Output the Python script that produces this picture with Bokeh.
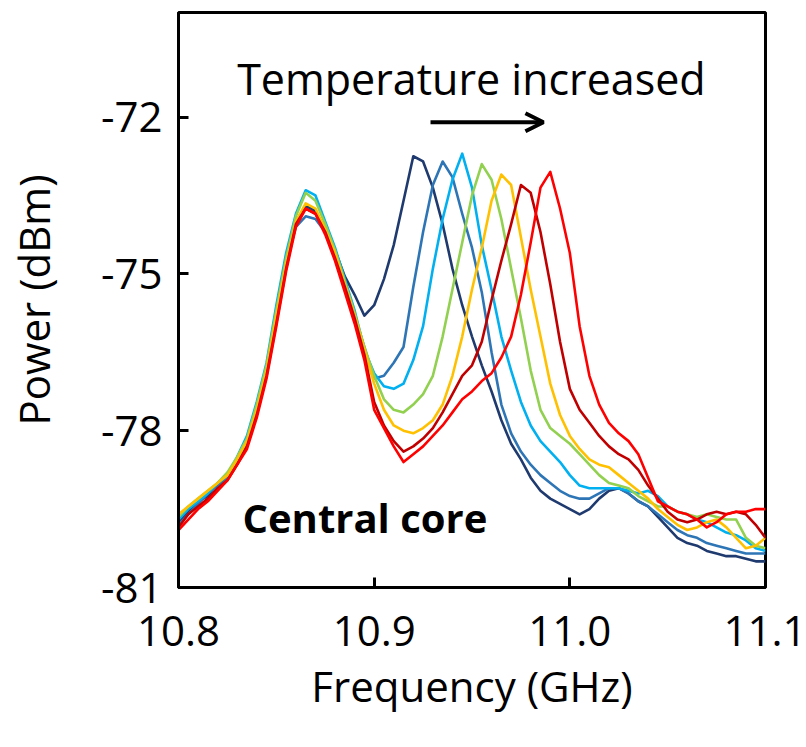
from bokeh.plotting import figure
from bokeh.models import Range1d, FixedTicker, Label, Arrow, OpenHead, PrintfTickFormatter, ColumnDataSource
from bokeh.embed import file_html
from bokeh.resources import INLINE

# ---------------- data ----------------
freq_ghz = [round(10.800 + 0.005 * i, 3) for i in range(61)]

navy = [-79.75, -79.55, -79.35, -79.25, -79.0, -78.9, -78.6, -78.2, -77.6, -76.9,
        -75.9, -74.85, -74.0, -73.7, -73.8, -74.15, -74.55, -75.05, -75.4, -75.8,
        -75.6, -75.1, -74.45, -73.6, -72.75, -72.85, -73.35, -74.05, -74.9, -75.6,
        -76.2, -76.75, -77.25, -77.8, -78.25, -78.55, -78.9, -79.15, -79.3, -79.4,
        -79.5, -79.6, -79.5, -79.3, -79.15, -79.1, -79.2, -79.35, -79.45, -79.65,
        -79.85, -80.05, -80.15, -80.2, -80.3, -80.35, -80.4, -80.4, -80.45, -80.5,
        -80.5]
mid_blue = [-79.8, -79.6, -79.4, -79.2, -79.05, -78.9, -78.55, -78.2, -77.6, -76.85,
            -75.8, -74.8, -74.1, -73.9, -73.95, -74.2, -74.6, -75.2, -75.8, -76.4,
            -77.0, -76.95, -76.7, -76.4, -75.25, -74.2, -73.3, -72.85, -73.15, -73.85,
            -74.5, -75.35, -76.5, -77.5, -78.05, -78.4, -78.65, -78.85, -79.0, -79.15,
            -79.25, -79.3, -79.3, -79.2, -79.1, -79.1, -79.2, -79.35, -79.45, -79.6,
            -79.75, -79.9, -80.0, -80.05, -80.15, -80.2, -80.25, -80.3, -80.35, -80.35,
            -80.35]
light_blue = [-79.7, -79.5, -79.35, -79.2, -79.0, -78.85, -78.5, -78.1, -77.45, -76.7,
              -75.6, -74.6, -73.85, -73.4, -73.5, -74.0, -74.5, -75.1, -75.7, -76.45,
              -76.9, -77.15, -77.2, -77.1, -76.65, -76.0, -74.9, -73.95, -73.2, -72.7,
              -73.35, -74.45, -75.3, -76.2, -76.85, -77.45, -77.9, -78.2, -78.4, -78.6,
              -78.85, -79.05, -79.1, -79.1, -79.1, -79.1, -79.15, -79.2, -79.15, -79.25,
              -79.45, -79.55, -79.6, -79.7, -79.75, -79.85, -79.95, -80.0, -80.1, -80.25,
              -80.3]
green = [-79.65, -79.45, -79.3, -79.15, -79.0, -78.8, -78.5, -78.15, -77.5, -76.75,
         -75.7, -74.7, -73.9, -73.45, -73.6, -74.05, -74.55, -75.15, -75.75, -76.4,
         -76.95, -77.4, -77.6, -77.65, -77.5, -77.3, -76.95, -76.2, -75.3, -74.4,
         -73.5, -72.9, -73.2, -73.95, -74.9, -75.85, -76.85, -77.6, -77.95, -78.1,
         -78.25, -78.45, -78.65, -78.85, -79.0, -79.05, -79.1, -79.25, -79.35, -79.45,
         -79.45, -79.55, -79.6, -79.65, -79.6, -79.65, -79.7, -79.7, -80.05, -80.2,
         -80.25]
yellow = [-79.6, -79.45, -79.3, -79.15, -79.0, -78.85, -78.55, -78.2, -77.6, -76.85,
          -75.8, -74.8, -74.0, -73.65, -73.75, -74.15, -74.6, -75.2, -75.8, -76.45,
          -77.1, -77.6, -77.9, -78.0, -78.05, -77.95, -77.8, -77.5, -76.95, -76.2,
          -75.3, -74.5, -73.6, -73.1, -73.3, -74.3, -75.3, -76.2, -77.1, -77.7,
          -78.1, -78.35, -78.55, -78.65, -78.7, -78.85, -79.0, -79.15, -79.3, -79.5,
          -79.65, -79.8, -79.9, -79.85, -79.75, -79.7, -79.85, -80.05, -80.25, -80.2,
          -80.05]
dark_red = [-79.85, -79.6, -79.45, -79.3, -79.1, -78.95, -78.65, -78.3, -77.7, -76.95,
            -75.95, -74.9, -74.05, -73.75, -73.85, -74.2, -74.7, -75.25, -75.85, -76.55,
            -77.45, -77.9, -78.2, -78.4, -78.3, -78.15, -77.95, -77.65, -77.3, -76.95,
            -76.75, -76.3, -75.5, -74.75, -74.05, -73.3, -73.45, -74.2, -75.2, -76.3,
            -77.2, -77.6, -77.85, -78.1, -78.3, -78.45, -78.55, -78.75, -79.05, -79.3,
            -79.55, -79.7, -79.75, -79.7, -79.6, -79.55, -79.6, -79.55, -79.6, -79.8,
            -80.05]
red = [-79.9, -79.7, -79.5, -79.35, -79.15, -78.95, -78.65, -78.35, -77.75, -77.0,
       -76.0, -74.95, -74.1, -73.75, -73.85, -74.25, -74.75, -75.35, -75.95, -76.65,
       -77.6, -77.95, -78.3, -78.6, -78.45, -78.3, -78.1, -77.9, -77.65, -77.4,
       -77.25, -77.05, -76.9, -76.6, -76.2, -75.4, -74.4, -73.35, -73.05, -73.75,
       -74.6, -76.0, -76.95, -77.5, -77.85, -78.05, -78.2, -78.45, -78.9, -79.35,
       -79.45, -79.55, -79.6, -79.7, -79.85, -79.75, -79.6, -79.55, -79.55, -79.5,
       -79.5]

series = [navy, mid_blue, light_blue, green, yellow, dark_red, red]
colors = ["#1F3A6E", "#2E75B6", "#00B0F0", "#92D050", "#FFC000", "#C00000", "#FF0000"]

x_ticks = [10.8, 10.9, 11.0, 11.1]
y_ticks = [-81, -78, -75, -72]

FONT = "Open Sans"

# ---------------- figure ----------------
p = figure(width=806, height=747,
           x_range=Range1d(10.8, 11.1), y_range=Range1d(-81, -70),
           output_backend="svg", toolbar_location=None,
           min_border_left=178, min_border_right=41,
           min_border_top=12, min_border_bottom=160)

p.background_fill_color = "white"
p.border_fill_color = "white"
p.outline_line_color = "black"
p.outline_line_width = 3
p.xgrid.visible = False
p.ygrid.visible = False

for ys, c in zip(series, colors):
    src = ColumnDataSource(dict(x=freq_ghz, y=ys))
    p.line("x", "y", source=src, line_color=c, line_width=2.6, line_join="round")

for ax in (p.xaxis[0], p.yaxis[0]):
    ax.axis_line_color = "black"
    ax.axis_line_width = 3
    ax.major_tick_line_color = "black"
    ax.major_tick_line_width = 3
    ax.major_tick_in = 10
    ax.major_tick_out = 0
    ax.minor_tick_line_color = None
    ax.major_label_text_font = FONT
    ax.major_label_text_font_size = "42px"
    ax.major_label_text_color = "black"
    ax.axis_label_text_font = FONT
    ax.axis_label_text_font_size = "42px"
    ax.axis_label_text_font_style = "normal"
    ax.axis_label_text_color = "black"

p.xaxis.ticker = FixedTicker(ticks=x_ticks)
p.xaxis.formatter = PrintfTickFormatter(format="%.1f")
p.xaxis.axis_label = "Frequency (GHz)"
p.xaxis.major_label_standoff = 28
p.xaxis.axis_label_standoff = 8

p.yaxis.ticker = FixedTicker(ticks=y_ticks)
p.yaxis.formatter = PrintfTickFormatter(format="%d")
p.yaxis.axis_label = "Power (dBm)"
p.yaxis.major_label_standoff = 16
p.yaxis.axis_label_standoff = 36

# annotations
p.add_layout(Label(x=10.9497, y=-71.27, text="Temperature increased",
                   text_align="center", text_baseline="alphabetic",
                   text_font=FONT, text_font_size="43px", text_color="black"))
p.add_layout(Arrow(end=OpenHead(size=18, line_width=4, line_color="black"),
                   x_start=10.9288, y_start=-72.1, x_end=10.9865, y_end=-72.1,
                   line_width=4, line_color="black"))
p.add_layout(Label(x=10.8327, y=-79.67, text="Central core",
                   text_align="left", text_baseline="alphabetic",
                   text_font=FONT, text_font_size="40px", text_font_style="bold",
                   text_color="black"))

open("out.html", "w").write(file_html(p, INLINE))
